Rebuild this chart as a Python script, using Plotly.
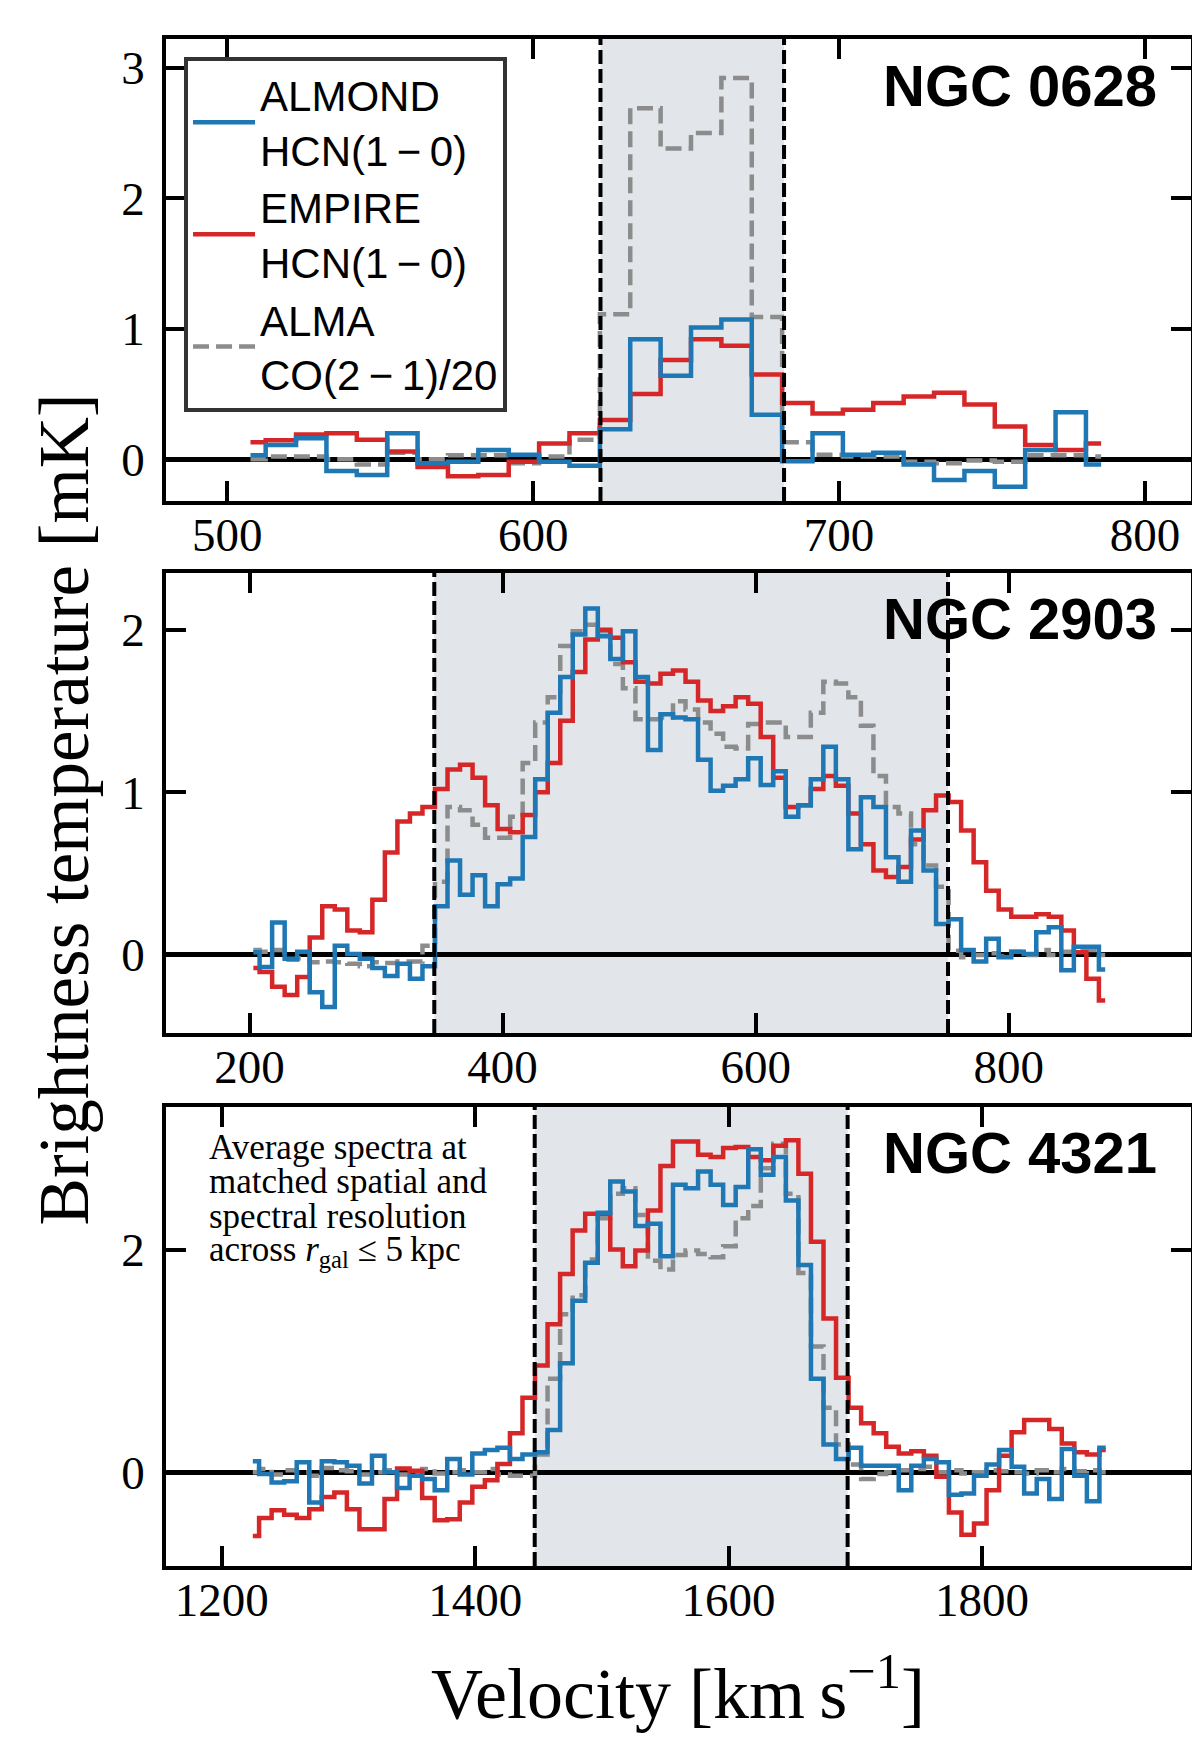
import numpy as np
import plotly.graph_objects as go

# channel grids (km/s): first channel centre, channel width, number of channels
v0628 = 507.6 + 9.93 * np.arange(29)
v2903 = 203.0 + 9.9 * np.arange(69)
v4321 = 1224.5 + 9.9 * np.arange(69)

# NGC 0628 spectra [mK]
almond_0628 = [0.03, 0.11, 0.16, -0.09, -0.12, 0.20, -0.03, -0.02, 0.07, 0.035,
               -0.02, -0.05, 0.23, 0.92, 0.64, 1.01, 1.07, 0.34, -0.015, 0.20,
               0.035, 0.05, -0.04, -0.16, -0.09, -0.21, 0.07, 0.36, -0.04]
empire_0628 = [0.13, 0.145, 0.19, 0.20, 0.15, 0.06, -0.06, -0.13, -0.12, -0.02,
               0.12, 0.20, 0.30, 0.50, 0.76, 0.92, 0.87, 0.65, 0.43, 0.35,
               0.38, 0.43, 0.48, 0.51, 0.42, 0.25, 0.11, 0.07, 0.12]
co_0628 = [0.0, 0.02, 0.02, 0.0, -0.04, 0.05, 0.0, 0.03, 0.03, -0.03,
           0.02, 0.15, 1.11, 2.69, 2.38, 2.50, 2.92, 1.09, 0.13, 0.035,
           0.02, 0.02, -0.02, -0.03, -0.01, -0.02, 0.03, 0.03, 0.02]

# NGC 2903 spectra [mK]
almond_2903 = [0.016, -0.075, 0.20, -0.024, 0.02, -0.23, -0.32, 0.057, 0.006, -0.024,
               -0.08, -0.13, -0.055, -0.146, -0.07, 0.30, 0.58, 0.37, 0.49, 0.30,
               0.435, 0.47, 0.725, 1.08, 1.49, 1.71, 1.97, 2.13, 1.96, 1.82,
               1.99, 1.71, 1.26, 1.48, 1.46, 1.45, 1.20, 1.01, 1.04, 1.08,
               1.21, 1.045, 1.13, 0.85, 0.92, 1.08, 1.28, 1.08, 0.65, 0.97,
               0.91, 0.60, 0.45, 0.765, 0.52, 0.19, 0.22, 0.03, -0.04, 0.10,
               -0.014, 0.02, 0.006, 0.14, 0.17, -0.095, 0.05, 0.05, -0.09]
empire_2903 = [-0.08, -0.105, -0.196, -0.247, -0.136, 0.107, 0.30, 0.28, 0.15, 0.14,
               0.34, 0.63, 0.82, 0.87, 0.91, 1.02, 1.14, 1.17, 1.09, 0.92,
               0.775, 0.755, 0.86, 1.0, 1.18, 1.44, 1.74, 1.94, 2.0, 1.95,
               1.80, 1.68, 1.67, 1.73, 1.75, 1.68, 1.565, 1.50, 1.53, 1.585,
               1.545, 1.34, 1.09, 0.91, 0.92, 1.02, 1.10, 1.04, 0.87, 0.68,
               0.52, 0.48, 0.54, 0.71, 0.89, 0.98, 0.94, 0.765, 0.57, 0.395,
               0.28, 0.235, 0.235, 0.25, 0.235, 0.15, 0.016, -0.146, -0.28]
co_2903 = [0.03, 0.02, 0.03, -0.03, -0.02, -0.045, -0.04, -0.045, -0.055, -0.07,
           -0.045, -0.05, -0.04, -0.04, 0.057, 0.45, 0.91, 0.89, 0.80, 0.72,
           0.72, 0.85, 1.18, 1.43, 1.585, 1.90, 1.99, 2.03, 1.99, 1.79,
           1.64, 1.45, 1.45, 1.46, 1.56, 1.51, 1.43, 1.36, 1.28, 1.27,
           1.42, 1.43, 1.43, 1.34, 1.34, 1.49, 1.68, 1.67, 1.585, 1.41,
           1.10, 0.91, 0.87, 0.68, 0.55, 0.42, 0.026, -0.014, 0.0, 0.01,
           -0.01, 0.02, 0.0, 0.03, 0.0, 0.02, 0.03, 0.03, 0.0]

# NGC 4321 spectra [mK]
almond_4321 = [0.10, -0.015, -0.09, -0.08, 0.09, -0.27, 0.10, 0.09, 0.06, -0.10,
               0.15, 0.0, -0.14, -0.03, -0.06, -0.16, 0.12, -0.02, 0.17, 0.20,
               0.22, 0.12, 0.16, 0.18, 0.38, 0.98, 1.54, 1.88, 2.33, 2.61,
               2.52, 2.21, 2.23, 1.94, 2.58, 2.55, 2.70, 2.58, 2.40, 2.56,
               2.90, 2.67, 2.83, 2.44, 1.86, 0.84, 0.25, 0.12, 0.22, 0.06,
               0.06, 0.06, -0.16, 0.06, 0.12, 0.09, -0.20, -0.19, -0.03, 0.07,
               0.20, 0.05, -0.19, -0.06, -0.24, 0.21, -0.03, -0.26, 0.22]
empire_4321 = [-0.57, -0.41, -0.34, -0.38, -0.41, -0.33, -0.22, -0.18, -0.33, -0.51,
               -0.51, -0.24, 0.035, 0.015, -0.23, -0.43, -0.42, -0.27, -0.13, -0.07,
               0.075, 0.35, 0.67, 0.96, 1.33, 1.78, 2.17, 2.32, 2.32, 2.0,
               1.85, 1.99, 2.35, 2.75, 2.97, 2.97, 2.85, 2.83, 2.91, 2.92,
               2.83, 2.80, 2.93, 2.98, 2.68, 2.07, 1.38, 0.85, 0.58, 0.44,
               0.35, 0.23, 0.17, 0.19, 0.15, -0.04, -0.36, -0.56, -0.46, -0.16,
               0.15, 0.36, 0.47, 0.47, 0.39, 0.26, 0.18, 0.16, 0.20]
co_4321 = [0.0, 0.03, -0.02, 0.02, 0.0, -0.03, 0.04, 0.02, 0.01, -0.02,
           0.0, 0.02, -0.02, 0.0, 0.03, -0.01, 0.0, 0.02, 0.0, 0.03,
           -0.02, -0.03, -0.03, 0.16, 0.84, 1.42, 1.59, 1.91, 2.28, 2.50,
           2.55, 2.31, 1.90, 1.82, 1.95, 1.99, 1.96, 1.93, 2.03, 2.28,
           2.39, 2.73, 2.95, 2.50, 1.79, 1.13, 0.58, 0.25, 0.07, -0.06,
           -0.015, 0.0, 0.02, 0.03, 0.05, 0.0, 0.02, -0.01, 0.0, 0.02,
           0.01, 0.0, -0.01, 0.02, 0.0, 0.03, 0.01, 0.02, 0.0]

galaxies = ["NGC 0628", "NGC 2903", "NGC 4321"]
windows = [[622, 682], [346, 752], [1447, 1694]]   # integration windows
x_ranges = [[480, 815], [134, 944], [1156, 1965]]
y_ranges = [[-0.32, 3.22], [-0.48, 2.35], [-0.84, 3.28]]
x_dticks = [100, 200, 200]
y_dticks = [1, 1, 2]

panels = [
    (v0628, almond_0628, empire_0628, co_0628),
    (v2903, almond_2903, empire_2903, co_2903),
    (v4321, almond_4321, empire_4321, co_4321),
]

BLUE = "#1f77b4"
RED = "#d62728"
GREY = "#8c8c8c"
SHADE = "#e2e5e9"
SERIF = "Liberation Serif, Times New Roman, serif"
SANS = "Liberation Sans, Arial, sans-serif"
MINUS = "\u2009\u2212\u2009"

x_dom = [0.1317, 0.9858]
y_doms = [[0.7165, 0.9822], [0.4106, 0.6752], [0.1041, 0.3681]]

fig = go.Figure()

for i, (v, almond, empire, co) in enumerate(panels):
    n = "" if i == 0 else str(i + 1)
    xa, ya = "x" + n, "y" + n
    first = i == 0
    fig.add_trace(go.Scatter(x=v, y=co, mode="lines", xaxis=xa, yaxis=ya,
                             name="ALMA<br>CO(2" + MINUS + "1)/20", legendrank=3,
                             showlegend=first,
                             line=dict(shape="hvh", color=GREY, width=4.5, dash="16px,7px")))
    fig.add_trace(go.Scatter(x=v, y=empire, mode="lines", xaxis=xa, yaxis=ya,
                             name="EMPIRE<br>HCN(1" + MINUS + "0)", legendrank=2,
                             showlegend=first,
                             line=dict(shape="hvh", color=RED, width=4.5)))
    fig.add_trace(go.Scatter(x=v, y=almond, mode="lines", xaxis=xa, yaxis=ya,
                             name="ALMOND<br>HCN(1" + MINUS + "0)", legendrank=1,
                             showlegend=first,
                             line=dict(shape="hvh", color=BLUE, width=4.5)))

    # integration window: shaded band and dashed edges
    fig.add_shape(type="rect", xref=xa, yref=ya + " domain",
                  x0=windows[i][0], x1=windows[i][1], y0=0, y1=1,
                  fillcolor=SHADE, line=dict(width=0), layer="below")
    for edge in windows[i]:
        fig.add_shape(type="line", xref=xa, yref=ya + " domain",
                      x0=edge, x1=edge, y0=0, y1=1, layer="above",
                      line=dict(color="black", width=4, dash="14px,5px"))

    axis_common = dict(showline=True, linecolor="black", linewidth=4, mirror="allticks",
                       ticks="inside", ticklen=20, tickwidth=4, tickcolor="black",
                       showgrid=False,
                       tickfont=dict(family=SERIF, size=47, color="black"))
    fig.update_layout({
        "xaxis" + n: dict(axis_common, domain=x_dom, anchor=ya, range=x_ranges[i],
                          dtick=x_dticks[i], zeroline=False, ticklabelstandoff=-10),
        "yaxis" + n: dict(axis_common, domain=y_doms[i], anchor=xa, range=y_ranges[i],
                          dtick=y_dticks[i], zeroline=True, zerolinecolor="black",
                          zerolinewidth=5, ticklabelstandoff=8),
    })

    # galaxy name
    fig.add_annotation(text="<b>" + galaxies[i] + "</b>", xref=xa + " domain",
                       yref=ya + " domain", x=0.969, y=0.90,
                       xanchor="right", yanchor="middle", showarrow=False,
                       font=dict(family=SANS, size=58, color="black"))

note_lines = ["Average spectra at", "matched spatial and", "spectral resolution",
              "across <i>r</i><sub>gal</sub> ≤ 5\u2009kpc"]
for k, line in enumerate(note_lines):
    fig.add_annotation(text=line, xref="paper", yref="paper", x=0.166,
                       y=0.345 - 0.0201 * k, xanchor="left", yanchor="middle",
                       showarrow=False, font=dict(family=SERIF, size=35, color="black"))

fig.add_annotation(text="Brightness temperature [mK]", xref="paper", yref="paper",
                   x=0.047, y=0.5394, xanchor="center", yanchor="middle",
                   textangle=-90, showarrow=False,
                   font=dict(family=SERIF, size=71, color="black"))
fig.add_annotation(text="Velocity [km\u2009s<sup>−1</sup>]", xref="paper", yref="paper",
                   x=0.558, y=0.0334, xanchor="center", yanchor="middle", showarrow=False,
                   font=dict(family=SERIF, size=72, color="black"))

fig.update_layout(
    width=1200, height=1739,
    margin=dict(l=0, r=0, t=0, b=0),
    paper_bgcolor="white", plot_bgcolor="white",
    legend=dict(x=0.1467, y=0.9718, xanchor="left", yanchor="top",
                bgcolor="white", bordercolor="#333333", borderwidth=4,
                itemwidth=62,
                font=dict(family=SANS, size=42, color="black")),
)

fig.write_html("out.html")
